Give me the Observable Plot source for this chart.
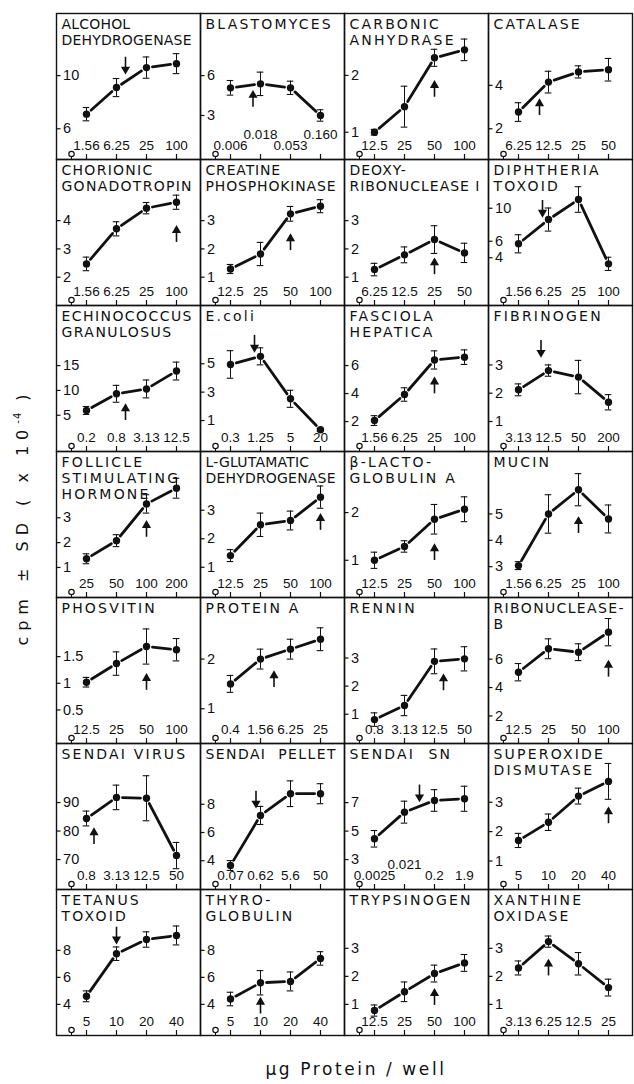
<!DOCTYPE html>
<html><head><meta charset="utf-8">
<script src="https://cdn.jsdelivr.net/npm/d3@7"></script>
<script src="https://cdn.jsdelivr.net/npm/@observablehq/plot@0.6"></script>
<style>
body{margin:0;background:#fff;}
#fig{position:relative;width:634px;height:1084px;font-family:"DejaVu Sans",sans-serif;color:#111;}
.panel{position:absolute;}
.panel svg{overflow:visible;display:block;background:transparent}
#ylab{position:absolute;left:22px;top:517px;transform:translate(-50%,-50%) rotate(-90deg);white-space:nowrap;font-size:16px;letter-spacing:6px}
#xlab{position:absolute;left:356px;top:1069px;transform:translate(-50%,-50%);white-space:nowrap;font-size:17px;letter-spacing:2.6px}
sup{font-size:10px;letter-spacing:1px}
</style></head><body><div id="fig">
<div id="ylab">cpm ± SD ( x 10<sup>-4</sup> )</div>
<div id="xlab">μg Protein / well</div>
</div>
<script>
const titles = [
 "ALCOHOL\nDEHYDROGENASE","BLASTOMYCES","CARBONIC\nANHYDRASE","CATALASE",
 "CHORIONIC\nGONADOTROPIN","CREATINE\nPHOSPHOKINASE","DEOXY-\nRIBONUCLEASE I","DIPHTHERIA\nTOXOID",
 "ECHINOCOCCUS\nGRANULOSUS","E.coli","FASCIOLA\nHEPATICA","FIBRINOGEN",
 "FOLLICLE\nSTIMULATING\nHORMONE","L-GLUTAMATIC\nDEHYDROGENASE","β-LACTO-\nGLOBULIN A","MUCIN",
 "PHOSVITIN","PROTEIN A","RENNIN","RIBONUCLEASE-\nB",
 "SENDAI VIRUS","SENDAI  PELLET","SENDAI  SN","SUPEROXIDE\nDISMUTASE",
 "TETANUS\nTOXOID","THYRO-\nGLOBULIN","TRYPSINOGEN","XANTHINE\nOXIDASE"
];
const xLabels = [
 ["1.56","6.25","25","100"],["0.006","0.018","0.053","0.160"],["12.5","25","50","100"],["6.25","12.5","25","50"],
 ["1.56","6.25","25","100"],["12.5","25","50","100"],["6.25","12.5","25","50"],["1.56","6.25","25","100"],
 ["0.2","0.8","3.13","12.5"],["0.3","1.25","5","20"],["1.56","6.25","25","100"],["3.13","12.5","50","200"],
 ["25","50","100","200"],["12.5","25","50","100"],["12.5","25","50","100"],["1.56","6.25","25","100"],
 ["12.5","25","50","100"],["0.4","1.56","6.25","25"],["0.8","3.13","12.5","50"],["12.5","25","50","100"],
 ["0.8","3.13","12.5","50"],["0.07","0.62","5.6","50"],["0.0025","0.021","0.2","1.9"],["5","10","20","40"],
 ["5","10","20","40"],["5","10","20","40"],["12.5","25","50","100"],["3.13","6.25","12.5","25"]
];
const means = [
 [7.1,9.1,10.6,10.9],[5.08,5.38,5.08,3.0],[1.0,1.45,2.31,2.45],[2.77,4.15,4.62,4.72],
 [2.47,3.71,4.44,4.65],[1.29,1.82,3.24,3.51],[1.27,1.79,2.33,1.86],[5.69,8.63,11.06,3.26],
 [5.96,9.32,10.3,13.9],[4.95,5.52,2.53,0.35],[2.07,3.93,6.4,6.6],[2.12,2.8,2.57,1.68],
 [1.35,2.08,3.56,4.19],[1.41,2.49,2.64,3.46],[1.0,1.29,1.86,2.07],[3.04,5.0,5.92,4.81],
 [1.02,1.37,1.69,1.63],[1.5,2.0,2.2,2.4],[0.81,1.31,2.88,2.97],[5.08,6.73,6.49,7.9],
 [84.4,91.8,91.5,71.4],[3.66,7.21,8.75,8.75],[4.46,6.33,7.15,7.27],[1.7,2.32,3.21,3.71],
 [4.6,7.75,8.8,9.1],[4.4,5.6,5.7,7.4],[0.78,1.45,2.1,2.48],[2.3,3.24,2.45,1.6]
];
const sds = [
 [0.5,0.68,0.8,0.75],[0.55,0.88,0.5,0.43],[0.05,0.36,0.15,0.19],[0.43,0.5,0.28,0.52],
 [0.24,0.25,0.2,0.25],[0.16,0.41,0.26,0.23],[0.22,0.28,0.49,0.34],[1.1,1.4,1.55,0.8],
 [0.8,1.7,1.8,1.8],[0.97,0.6,0.6,0.1],[0.35,0.48,0.65,0.52],[0.21,0.2,0.59,0.27],
 [0.2,0.24,0.37,0.4],[0.21,0.41,0.33,0.39],[0.17,0.12,0.31,0.26],[0.15,0.73,0.61,0.53],
 [0.09,0.22,0.33,0.21],[0.17,0.2,0.2,0.23],[0.24,0.36,0.44,0.43],[0.61,0.7,0.59,0.96],
 [2.6,4.3,7.9,4.6],[0.35,0.64,0.91,0.71],[0.58,0.77,0.76,0.88],[0.24,0.28,0.27,0.61],
 [0.4,0.5,0.57,0.7],[0.5,0.9,0.7,0.5],[0.2,0.35,0.3,0.3],[0.25,0.2,0.4,0.3]
];
const yTicks = [
 [6,10],[3,6],[1,2],[2,4],
 [2,3,4],[1,2,3],[1,2,3],[4,6,10],
 [5,10,15],[1,3,5],[2,4,6],[1,2,3],
 [1,2,3],[1,2,3],[1,2],[3,4,5],
 [0.5,1,1.5],[1,2],[1,2,3],[2,4,6],
 [70,80,90],[4,6,8],[3,5,7],[1,2,3],
 [4,6,8],[4,6,8],[1,2,3],[1,2,3]
];
const yDomains = [
 [3.69,14.67],[-0.31,10.67],[0.52,3.09],[0.585,7.31],
 [1.0,6.16],[0,5.16],[0,5.16],[-1.79,15.91],
 [-2.3,27.1],[-1.18,9.1],[-0.14,10.29],[-0.06,5.1],
 [-0.21,5.67],[-0.06,5.06],[0.22,3.28],[1.83,7.37],
 [-0.13,2.61],[0.3,3.24],[-0.04,5.15],[0.06,10.34],
 [59.5,110.7],[1.96,12.31],[0.9,11.15],[0.03,5.0],
 [1.7,12.5],[1.7,12.5],[-0.11,5.1],[-0.11,5.1]
];
// arrow: x position (in concentration-step units), tip value, direction
const arrowAt = [2.3,1.75,3,1.7, 4,3,3,1.8, 2.3,1.8,3,1.75, 3,4,3,3, 3,2.45,3.3,4, 1.25,1.85,2.5,4, 2,2,3,2];
const arrowTip = [10.25,4.75,1.88,3.3, 3.76,2.47,1.62,9.12, 6.96,5.94,5.05,3.33, 2.82,2.82,1.31,4.83, 1.15,1.73,2.37,5.79, 80.5,7.86,7.18,2.78, 8.6,4.4,1.5,2.55];
const arrowDir = ["down","up","up","up", "up","up","up","down", "up","down","up","down", "up","up","up","up", "up","up","up","up", "up","down","down","up", "down","up","up","up"];
// x-labels drawn higher (staggered) in the original
const raisedLabels = {1:[1,3], 22:[1]};

const W = 144, H = 146, LEFT = 56, TOP = 13;
const NUM = "Liberation Sans, Arial, sans-serif";
const fig = document.getElementById("fig");
titles.forEach((t, k) => {
  const [lo, hi] = yDomains[k];
  const u = (hi - lo) / H;
  const pts = means[k].map((m, i) => ({i: i + 1, m, sd: sds[k][i], lab: xLabels[k][i], raised: (raisedLabels[k] || []).includes(i)}));
  const segs = pts.slice(1).map((p, j) => ({a: pts[j], b: p}));
  const up = arrowDir[k] === "up";
  const tip = arrowTip[k];
  const tail = up ? tip - 15 * u : tip + 15 * u;
  const ink = "#111";
  const svg = Plot.plot({
    width: W, height: H, margin: 0,
    style: {fontFamily: "DejaVu Sans, sans-serif", color: ink, background: "transparent", overflow: "visible"},
    x: {domain: [0, 4.8], axis: null},
    y: {domain: [lo, hi], axis: null},
    marks: [
      Plot.frame({stroke: ink, strokeWidth: 1.4}),
      Plot.ruleY(yTicks[k], {y: d => d, x1: 0, x2: 0.15, stroke: ink, strokeWidth: 1.2}),
      Plot.text(yTicks[k], {y: d => d, x: 0.22, text: d => String(d), textAnchor: "start", fontSize: 14.5, fontFamily: NUM, fill: ink}),
      Plot.ruleX([1, 2, 3, 4], {x: d => d, y1: lo, y2: lo + 5 * u, stroke: ink, strokeWidth: 1.2}),
      Plot.text(pts, {x: "i", y: lo, text: "lab", fontSize: 13.5, fontFamily: NUM, fill: ink, filter: d => !d.raised, lineAnchor: "bottom", dy: -10}),
      Plot.text(pts, {x: "i", y: lo, text: "lab", fontSize: 13.5, fontFamily: NUM, fill: ink, filter: d => d.raised, lineAnchor: "bottom", dy: -21}),
      Plot.ruleX([0.5], {x: d => d, y1: lo, y2: lo + 3 * u, stroke: ink, strokeWidth: 1}),
      Plot.dot([0.5], {x: d => d, y: lo, dy: -5.5, r: 2.7, stroke: ink, strokeWidth: 1.2, fill: "white"}),
      Plot.ruleX(pts, {x: "i", y1: d => d.m - d.sd, y2: d => d.m + d.sd, stroke: ink, strokeWidth: 1}),
      Plot.ruleY(pts, {y: d => d.m + d.sd, x1: d => d.i - 0.11, x2: d => d.i + 0.11, stroke: ink, strokeWidth: 1.1}),
      Plot.ruleY(pts, {y: d => d.m - d.sd, x1: d => d.i - 0.11, x2: d => d.i + 0.11, stroke: ink, strokeWidth: 1.1}),
      Plot.arrow(segs, {x1: d => d.a.i, y1: d => d.a.m, x2: d => d.b.i, y2: d => d.b.m, headLength: 0, inset: 6, stroke: ink, strokeWidth: 2.8}),
      Plot.dot(pts, {x: "i", y: "m", r: 3.7, fill: ink}),
      Plot.ruleX([arrowAt[k]], {x: d => d, y1: tail, y2: tip, stroke: ink, strokeWidth: 1.6}),
      Plot.dot([arrowAt[k]], {x: d => d, y: tip, symbol: "triangle", r: 3.4, fill: ink, rotate: up ? 0 : 180, dy: up ? 3 : -3}),
      Plot.text([t], {frameAnchor: "top-left", dx: 5, dy: 4, lineAnchor: "top", textAnchor: "start", fontSize: 14, lineHeight: 1.15, fill: ink, ariaLabel: () => "title"})
    ]
  });
  const div = document.createElement("div");
  div.className = "panel";
  div.style.left = (LEFT + (k % 4) * W) + "px";
  div.style.top = (TOP + Math.floor(k / 4) * H) + "px";
  div.appendChild(svg);
  fig.appendChild(div);
  // widen title tracking like the original lettering, without overflowing the panel
  const textEls = Array.from(svg.querySelectorAll("text"));
  const titleEl = textEls.find(el => el.getAttribute("aria-label") === "title") || textEls[textEls.length - 1];
  if (titleEl) {
    const lines = t.split("\n");
    let wmax = 0, n = 1;
    const spans = titleEl.querySelectorAll("tspan");
    (spans.length ? Array.from(spans) : [titleEl]).forEach((s, j) => {
      const w = s.getComputedTextLength();
      if (w > wmax) { wmax = w; n = (lines[j] || t).length; }
    });
    const ls = Math.max(0, Math.min(2.2, (130 - wmax) / Math.max(1, n - 1)));
    titleEl.setAttribute("letter-spacing", ls.toFixed(2));
  }
});
</script>
</body></html>
